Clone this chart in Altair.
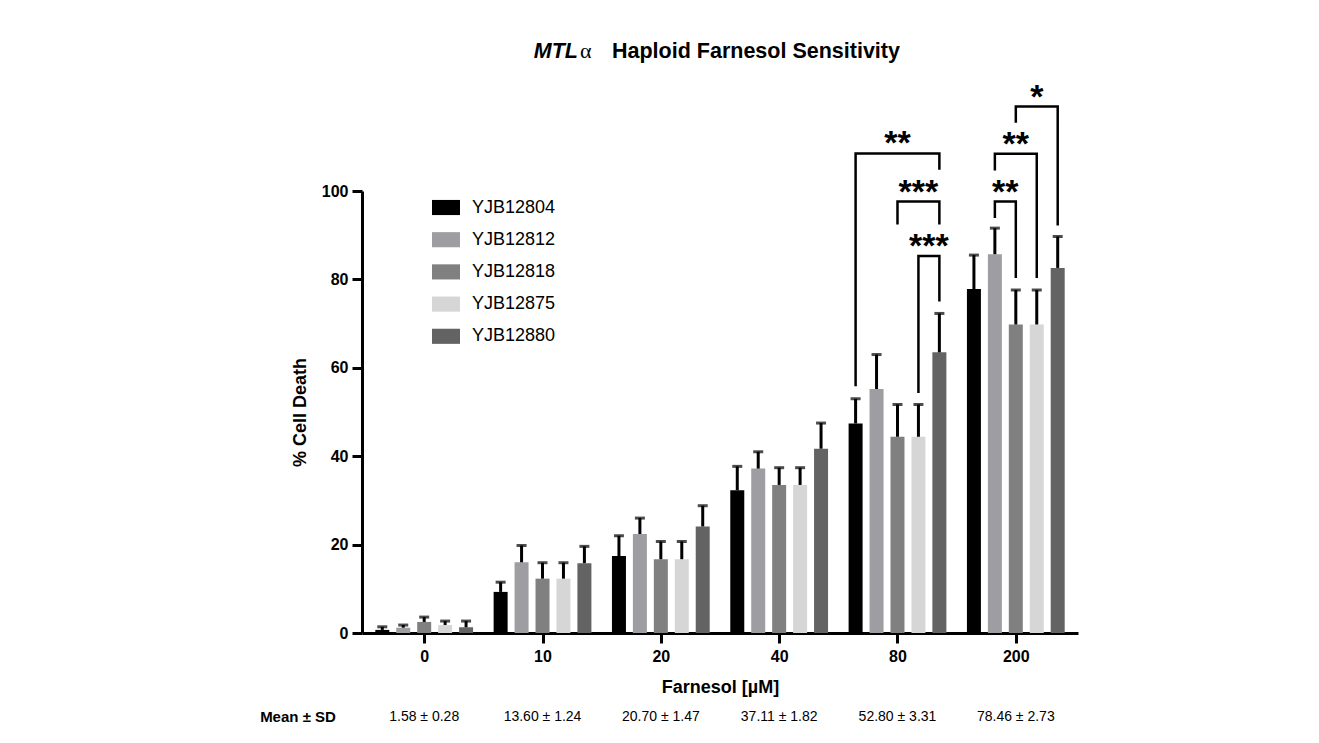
import altair as alt
import pandas as pd

# ---------------- data ----------------
concs = ["0", "10", "20", "40", "80", "200"]
strains = ["YJB12804", "YJB12812", "YJB12818", "YJB12875", "YJB12880"]
colors = ["#000000", "#9e9ea2", "#808080", "#d6d6d6", "#636363"]

mean_12804 = [0.7, 9.3, 17.4, 32.3, 47.4, 77.8]
mean_12812 = [1.2, 16.0, 22.4, 37.2, 55.2, 85.7]
mean_12818 = [2.5, 12.3, 16.7, 33.5, 44.4, 69.8]
mean_12875 = [1.8, 12.3, 16.7, 33.5, 44.4, 69.8]
mean_12880 = [1.3, 15.8, 24.1, 41.7, 63.5, 82.6]

sd_12804 = [0.7, 2.2, 4.6, 5.4, 5.6, 7.7]
sd_12812 = [0.6, 3.8, 3.6, 3.8, 7.8, 5.9]
sd_12818 = [1.1, 3.6, 4.0, 3.9, 7.3, 7.8]
sd_12875 = [0.9, 3.6, 4.0, 3.9, 7.3, 7.8]
sd_12880 = [1.4, 3.8, 4.7, 5.8, 8.8, 7.1]

summary_labels = ["1.58 ± 0.28", "13.60 ± 1.24", "20.70 ± 1.47",
                  "37.11 ± 1.82", "52.80 ± 3.31", "78.46 ± 2.73"]

# significance brackets: group index, left strain, right strain,
# left leg bottom, right leg bottom, bracket top, label
br_group = [4, 4, 4, 5, 5, 5]
br_left = [0, 2, 3, 1, 1, 2]
br_right = [4, 4, 4, 2, 3, 4]
br_left_low = [56.1, 92.7, 54.6, 94.2, 104.9, 115.7]
br_right_low = [105.1, 92.7, 75.3, 80.6, 80.6, 92.5]
br_top = [108.5, 97.6, 85.3, 97.6, 108.4, 119.1]
br_label = ["**", "***", "***", "**", "**", "*"]

# ---------------- tables ----------------
means = [mean_12804, mean_12812, mean_12818, mean_12875, mean_12880]
sds = [sd_12804, sd_12812, sd_12818, sd_12875, sd_12880]
STEP = 0.177

rows = []
for j, s in enumerate(strains):
    for i, c in enumerate(concs):
        rows.append(dict(strain=s, conc=c, xpos=i + (j - 2) * STEP,
                         mean=means[j][i], top=means[j][i] + sds[j][i]))
df = pd.DataFrame(rows)

line_rows, text_rows = [], []
for k in range(len(br_group)):
    g = br_group[k]
    xl = g + (br_left[k] - 2) * STEP
    xr = g + (br_right[k] - 2) * STEP
    pts = [(xl, br_left_low[k]), (xl, br_top[k]), (xr, br_top[k]), (xr, br_right_low[k])]
    for n, (px, py) in enumerate(pts):
        line_rows.append(dict(b=k, seq=n, xpos=px, y=py))
    text_rows.append(dict(xpos=(xl + xr) / 2, y=br_top[k], label=br_label[k]))
df_lines = pd.DataFrame(line_rows)
df_stars = pd.DataFrame(text_rows)
df_sum = pd.DataFrame(dict(xpos=list(range(len(concs))), label=summary_labels))
one = pd.DataFrame(dict(a=[0]))

# ---------------- scales / axes ----------------
FONT = "Liberation Sans"
xscale = alt.Scale(domain=[-0.4833, 5.4833], nice=False, zero=False)
yscale = alt.Scale(domain=[0, 100], nice=False)
label_expr = "[" + ",".join("'%s'" % c for c in concs) + "][datum.value]"
xaxis = alt.Axis(values=list(range(len(concs))), labelExpr=label_expr,
                 title="Farnesol [µM]", titleFontSize=18, titleFontWeight="bold",
                 titlePadding=14, labelFontSize=16, labelFontWeight="bold",
                 labelPadding=5, tickSize=10, tickWidth=3, domainWidth=3,
                 domainColor="black", tickColor="black", labelColor="black",
                 titleColor="black", grid=False)
yaxis = alt.Axis(values=[0, 20, 40, 60, 80, 100], title="% Cell Death",
                 titleFontSize=18, titleFontWeight="bold", titlePadding=12,
                 labelFontSize=16, labelFontWeight="bold", labelPadding=4,
                 tickSize=10, tickWidth=3, domainWidth=3, domainColor="black",
                 tickColor="black", labelColor="black", titleColor="black",
                 grid=False)


def X(f):
    return alt.X(f + ":Q", scale=xscale, axis=xaxis)


def Y(f):
    return alt.Y(f + ":Q", scale=yscale, axis=yaxis)


bars = alt.Chart(df).mark_bar(size=14).encode(
    x=X("xpos"), y=Y("mean"),
    color=alt.Color("strain:N", scale=alt.Scale(domain=strains, range=colors),
                    legend=alt.Legend(title=None, orient="none", legendX=70, legendY=2.5,
                                      symbolType="M-1,-0.54H1V0.54H-1Z", symbolSize=784,
                                      symbolStrokeWidth=0, symbolOpacity=1,
                                      labelFontSize=18, labelFont=FONT, labelColor="black",
                                      labelOffset=12, rowPadding=9.2)))

err = alt.Chart(df).mark_rule(strokeWidth=3, color="black").encode(
    x=X("xpos"), y=Y("mean"), y2="top:Q")
caps = alt.Chart(df).mark_tick(orient="horizontal", size=10, thickness=3, color="black").encode(
    x=X("xpos"), y=Y("top"))

brackets = alt.Chart(df_lines).mark_line(strokeWidth=2.5, color="black", strokeCap="square").encode(
    x=X("xpos"), y=Y("y"), detail="b:N", order="seq:Q")
stars = alt.Chart(df_stars).mark_text(fontSize=34, fontWeight="bold", font=FONT, color="black",
                                      baseline="alphabetic", dy=1).encode(
    x=X("xpos"), y=Y("y"), text="label:N")

summary = alt.Chart(df_sum).mark_text(fontSize=14, font=FONT, color="black", baseline="middle").encode(
    x=X("xpos"), y=alt.value(526), text="label:N")
summary_head = alt.Chart(one).mark_text(text="Mean ± SD", fontSize=15, fontWeight="bold", font=FONT,
                                        color="black", baseline="middle").encode(
    x=alt.value(-64), y=alt.value(526))

t1 = alt.Chart(one).mark_text(text="MTL", fontSize=21.5, fontWeight="bold", fontStyle="italic",
                              font=FONT, color="black", align="right", baseline="alphabetic").encode(
    x=alt.value(216), y=alt.value(-133))
t2 = alt.Chart(one).mark_text(text="α", fontSize=22, font="Liberation Serif", color="black",
                              align="left", baseline="alphabetic").encode(
    x=alt.value(218), y=alt.value(-133))
t3 = alt.Chart(one).mark_text(text="Haploid Farnesol Sensitivity", fontSize=21.5, fontWeight="bold",
                              font=FONT, color="black", align="left", baseline="alphabetic").encode(
    x=alt.value(250), y=alt.value(-133))

chart = alt.layer(bars, err, caps, brackets, stars, summary, summary_head, t1, t2, t3).properties(
    width=716, height=442,
    autosize=alt.AutoSizeParams(type="none"),
    padding={"left": 354, "top": 183, "right": 220, "bottom": 95},
).configure(font=FONT).configure_view(stroke=None)

chart.save("out.html", embed_options={"renderer": "svg", "actions": False})
